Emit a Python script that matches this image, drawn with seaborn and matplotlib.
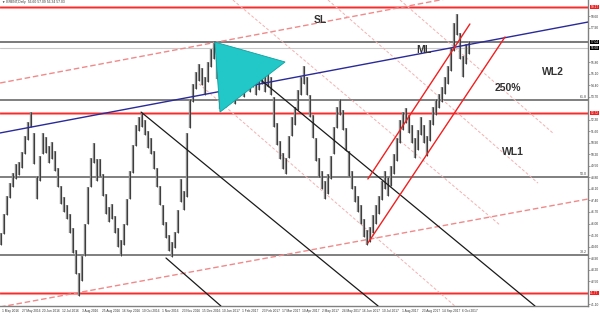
import numpy as np
import matplotlib
matplotlib.use("Agg")
import matplotlib.pyplot as plt
import seaborn as sns

sns.set_style("white")
plt.rcParams.update({'font.family': ['Liberation Sans', 'DejaVu Sans']})

# Daily Brent, one stick per ~2.4 sessions (low / high)
lows = [44.70, 45.35, 46.50, 47.55, 48.20, 48.70, 48.95, 49.40, 50.20, 51.10,
        51.90, 49.60, 47.50, 48.60, 50.20, 50.30, 49.70, 49.95, 49.20, 48.20,
        47.20, 46.70, 46.25, 45.40, 44.20, 42.90, 41.60, 42.50, 44.00, 46.00,
        48.20, 49.70, 48.60, 48.90, 47.70, 46.60, 46.10, 46.25, 45.40, 44.60,
        44.05, 44.70, 45.90, 47.50, 49.10, 50.70, 51.60, 51.90, 51.40, 50.60,
        50.20, 49.30, 48.20, 47.10, 45.90, 45.10, 44.30, 43.95, 44.50, 45.40,
        47.30, 46.80, 47.60, 51.80, 53.40, 54.20, 54.70, 54.40, 53.80, 54.60,
        55.50, 56.00, 54.80, 52.95, 53.50, 54.10, 53.40, 54.00, 53.30, 54.10,
        54.30, 53.70, 54.60, 54.00, 54.30, 53.80, 54.10, 54.50, 54.00, 54.30,
        53.80, 51.90, 50.80, 49.90, 49.30, 49.00, 50.00, 51.30, 52.00, 52.90,
        53.80, 54.50, 53.80, 52.50, 51.20, 49.80, 48.80, 48.10, 47.50, 47.80,
        48.70, 50.20, 51.80, 52.60, 51.70, 50.40, 48.90, 48.10, 47.30, 46.70,
        46.00, 45.20, 44.70, 44.90, 45.40, 46.00, 46.60, 47.40, 48.10, 47.70,
        48.30, 49.00, 49.80, 50.90, 51.70, 52.10, 51.50, 50.90, 50.00, 50.50,
        51.40, 50.90, 50.10, 51.00, 52.00, 52.60, 53.00, 53.40, 53.90, 54.50,
        55.30, 56.50, 57.50, 56.00, 54.90, 55.70, 56.30]
highs = [45.40, 46.55, 47.65, 48.45, 49.05, 49.60, 49.75, 50.35, 51.30, 52.15,
         52.80, 51.50, 48.90, 50.10, 51.50, 51.25, 50.70, 50.95, 50.40, 49.40,
         48.30, 47.60, 47.15, 46.60, 45.70, 44.40, 43.00, 44.00, 46.00, 48.20,
         50.00, 50.90, 49.90, 49.90, 49.00, 47.80, 47.00, 47.20, 46.45, 45.70,
         45.00, 46.00, 47.50, 49.20, 50.80, 52.00, 52.50, 52.75, 52.30, 51.60,
         51.20, 50.40, 49.40, 48.30, 47.10, 46.10, 45.30, 44.90, 45.50, 46.80,
         48.70, 48.00, 51.50, 53.60, 54.50, 55.20, 55.70, 55.45, 54.90, 55.80,
         56.60, 57.00, 56.20, 54.60, 54.90, 55.40, 54.80, 55.30, 54.70, 55.40,
         55.60, 55.00, 55.90, 55.30, 55.60, 55.00, 55.40, 55.80, 55.20, 55.40,
         54.90, 53.70, 52.10, 51.00, 50.30, 50.00, 51.30, 52.50, 53.10, 54.10,
         54.90, 55.60, 54.90, 53.80, 52.60, 51.20, 50.00, 49.20, 48.60, 49.00,
         50.10, 51.90, 53.10, 53.60, 52.90, 51.80, 50.40, 49.20, 48.30, 47.70,
         47.10, 46.30, 45.60, 45.80, 46.50, 47.10, 47.70, 48.60, 49.20, 48.80,
         49.50, 50.20, 51.20, 52.30, 52.80, 53.05, 52.60, 52.00, 51.20, 51.70,
         52.50, 52.00, 51.30, 52.30, 53.10, 53.60, 53.90, 54.30, 54.90, 55.60,
         56.70, 58.20, 58.75, 57.60, 56.20, 56.90, 57.10]

date_labels = ["1 May 2016", "27 May 2016", "20 Jun 2016", "12 Jul 2016", "3 Aug 2016",
               "25 Aug 2016", "16 Sep 2016", "10 Oct 2016", "1 Nov 2016", "23 Nov 2016",
               "15 Dec 2016", "10 Jan 2017", "1 Feb 2017", "23 Feb 2017", "17 Mar 2017",
               "10 Apr 2017", "2 May 2017", "24 May 2017", "16 Jun 2017", "10 Jul 2017",
               "1 Aug 2017", "23 Aug 2017", "14 Sep 2017", "6 Oct 2017"]
price_ticks = [41.10, 41.80, 42.50, 43.20, 43.90, 44.60, 45.30, 46.00, 46.70, 47.40,
               48.10, 48.80, 49.50, 50.20, 50.90, 51.60, 52.30, 53.00, 53.70, 54.40,
               55.10, 55.80, 56.50, 57.20, 57.90, 58.60, 59.30]

# horizontal levels
red_levels = [59.17, 52.72, 41.77]
fib_levels = [53.51, 48.83, 44.08]
fib_names = ["61.8", "50.0", "38.2"]
last_close = 56.68
hline_price = 57.04

# drawn objects (x in stick index, y in price)
median_line = [(-0.3, 51.51), (195.7, 58.26)]
upper_fork = [(-0.3, 54.55), (195.7, 61.30)]
lower_fork = [(-0.3, 40.92), (195.7, 47.49)]
black_lines = [[(71.3, 57.04), (178.0, 40.98)],
               [(46.7, 52.78), (125.7, 40.98)],
               [(55.0, 43.90), (73.3, 40.98)]]
channel_lines = [[(122.3, 48.71), (156.3, 58.14)],
                 [(122.3, 44.81), (168.0, 57.35)]]
warning_lines = [[(77.3, 59.60), (166.3, 45.91)],
                 [(109.0, 59.60), (179.0, 48.46)],
                 [(133.0, 59.60), (184.0, 51.50)],
                 [(66.0, 54.50), (151.3, 40.98)]]
triangle = [(71.3, 57.04), (94.7, 55.83), (73.0, 52.78)]
labels = {"SL": (106.5, 58.38), "ML": (141.0, 56.56), "WL2": (184.0, 55.22),
          "250%": (169.0, 54.24), "WL1": (170.5, 50.35)}

fig = plt.figure(figsize=(6.0, 3.13), dpi=100)
ax = fig.add_axes([0, 7 / 313, 588 / 600, 306 / 313])
ax.set_xlim(-0.33, 195.67)
ax.set_ylim(40.98, 59.60)

x = np.arange(len(lows))
ax.vlines(x, lows, highs, color="#8a8a8a", linewidth=1.7, zorder=3)
ax.vlines(x, lows, highs, color="#303030", linewidth=0.6, zorder=3)

for p in red_levels:
    ax.axhline(p, color="#ff9a9a", linewidth=2.2, zorder=1)
    ax.axhline(p, color="#f03030", linewidth=0.8, zorder=2)
for p, n in zip(fib_levels, fib_names):
    ax.axhline(p, color="#6a6a6a", linewidth=1.2, zorder=2)
    ax.text(195.3, p + 0.05, n, fontsize=2.6, ha="right", va="bottom", color="#444")
ax.axhline(hline_price, color="#707070", linewidth=1.3, zorder=2)
ax.axhline(last_close, color="#c8c8c8", linewidth=0.8, zorder=1)

sns.lineplot(x=[p[0] for p in median_line], y=[p[1] for p in median_line],
             ax=ax, color="#2a2a9a", linewidth=1.0, zorder=4)
for seg in (upper_fork, lower_fork):
    ax.plot([p[0] for p in seg], [p[1] for p in seg], color="#f08a8a",
            linewidth=1.0, dashes=(4, 2), zorder=2)
for seg in warning_lines:
    ax.plot([p[0] for p in seg], [p[1] for p in seg], color="#f5b0b0",
            linewidth=0.7, dashes=(3, 2), zorder=2)
for seg in black_lines:
    ax.plot([p[0] for p in seg], [p[1] for p in seg], color="#1a1a1a",
            linewidth=0.9, zorder=4)
for seg in channel_lines:
    ax.plot([p[0] for p in seg], [p[1] for p in seg], color="#f02020",
            linewidth=1.0, zorder=4)

ax.add_patch(plt.Polygon(triangle, closed=True, facecolor="#22c8c8",
                         edgecolor="#0fa0a0", linewidth=0.6, zorder=5))

for name, (lx, ly) in labels.items():
    ax.text(lx, ly, name, fontsize=7.5, fontweight="bold", color="#333333",
            ha="center", va="center", zorder=6)

ax.text(0.5, 59.45, "\u25bc BRENT,Daily  56.60 57.09 56.34 57.03", fontsize=2.4,
        color="#333", va="center", ha="left")

# price boxes on the scale cover the tick labels under them
boxes = [(59.17, "#f02020"), (52.72, "#f02020"), (41.77, "#f02020"),
         (57.04, "#000000"), (56.68, "#000000")]
shown = [v for v in price_ticks if min(abs(v - b[0]) for b in boxes) > 0.3]

tick_pos = np.arange(len(date_labels)) * 20 / 3 + 0.33
ax.set_xticks(tick_pos)
ax.set_xticklabels(date_labels, fontsize=2.3, ha="left", color="#333")
ax.yaxis.tick_right()
ax.set_yticks(shown)
ax.set_yticklabels([f"{v:.2f}" for v in shown], fontsize=2.3, color="#333")
ax.tick_params(length=1.5, width=0.5, pad=0.8, color="#777")
for s in ("top", "left"):
    ax.spines[s].set_visible(False)
for s in ("right", "bottom"):
    ax.spines[s].set_color("#808080")
    ax.spines[s].set_linewidth(1.0)

for p, fc in boxes:
    ax.text(1.004, p, f"{p:.2f}", transform=ax.get_yaxis_transform(), fontsize=2.3,
            color="white", va="center", ha="left", zorder=7,
            bbox=dict(boxstyle="square,pad=0.12", facecolor=fc, edgecolor="none"))

fig.savefig("out.png", dpi=100)
